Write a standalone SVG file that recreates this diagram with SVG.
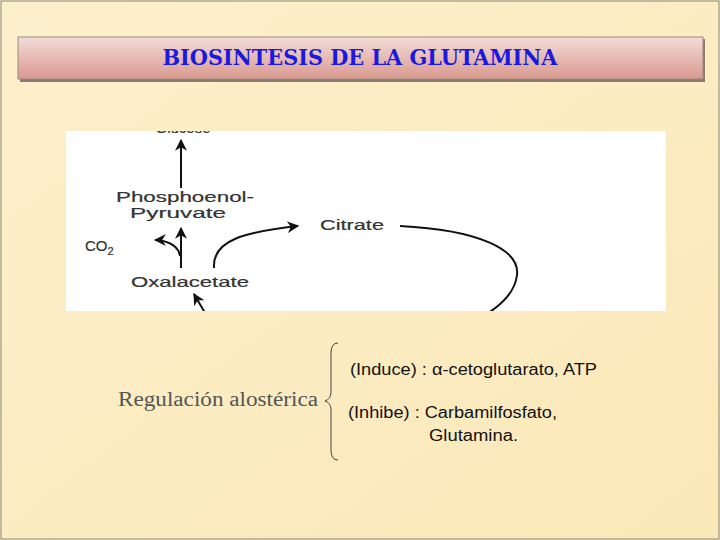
<svg xmlns="http://www.w3.org/2000/svg" width="720" height="540" viewBox="0 0 720 540">
<defs>
<linearGradient id="bg" x1="0" y1="0" x2="1" y2="1"><stop offset="0" stop-color="#fcf0cc"/><stop offset="1" stop-color="#fbe8b8"/></linearGradient>
<linearGradient id="bar" x1="0" y1="0" x2="0" y2="1"><stop offset="0" stop-color="#f3dcd8"/><stop offset="1" stop-color="#d9998f"/></linearGradient>
<marker id="ah" viewBox="0 0 10 10" refX="9" refY="5" markerWidth="6" markerHeight="6" orient="auto"><path d="M0,0 L10,5 L0,10 L3,5 z" fill="#111"/></marker>
<clipPath id="pic"><rect x="66" y="131" width="600" height="180"/></clipPath>
<style>.lbl{font-family:"Liberation Sans",Arial,sans-serif;font-size:15px;fill:#333;stroke:#333;stroke-width:0.2}.ln{stroke:#111;stroke-width:2;fill:none}.t{font-family:"Liberation Sans",Arial,sans-serif;font-size:16px;fill:#111}</style>
</defs>
<rect width="720" height="540" fill="url(#bg)"/>
<rect x="1" y="1" width="718" height="538" fill="none" stroke="#8a8a7a" stroke-width="1"/>
<g id="title">
<rect x="20" y="39" width="685" height="43" fill="#8a7a70"/>
<rect x="18" y="37" width="685" height="42" fill="url(#bar)" stroke="#9a8a80"/>
<text x="360" y="65" text-anchor="middle" font-family="'DejaVu Serif',serif" font-size="22" font-weight="bold" fill="#1a1adf" textLength="395" lengthAdjust="spacingAndGlyphs">BIOSINTESIS  DE  LA GLUTAMINA</text>
</g>
<g id="figure">
<rect x="66" y="131" width="600" height="180" fill="#fff"/>
<g clip-path="url(#pic)">
<text class="lbl" x="183" y="133" text-anchor="middle">Glucose</text>
<g id="connectors">
<line class="ln" x1="181" y1="188" x2="181" y2="140" marker-end="url(#ah)"/>
<line class="ln" x1="181" y1="268" x2="181" y2="228" marker-end="url(#ah)"/>
<path class="ln" d="M180,256 Q178,243 158,240 L155,240" marker-end="url(#ah)"/>
<path class="ln" d="M214,268 C212,240 245,232 298,226" marker-end="url(#ah)"/>
<path class="ln" d="M400,226 C480,230 520,250 517,275 C515,292 500,306 485,315"/>
<path class="ln" d="M208,318 L194,294" marker-end="url(#ah)"/>
</g>
<text class="lbl" x="116" y="202" textLength="138" lengthAdjust="spacingAndGlyphs">Phosphoenol-</text>
<text class="lbl" x="130" y="218" textLength="96" lengthAdjust="spacingAndGlyphs">Pyruvate</text>
<text class="lbl" x="320" y="230" textLength="64" lengthAdjust="spacingAndGlyphs">Citrate</text>
<text class="lbl" x="85" y="251" font-size="16">CO<tspan font-size="11" dy="4">2</tspan></text>
<text class="lbl" x="131" y="287" textLength="118" lengthAdjust="spacingAndGlyphs">Oxalacetate</text>
</g>
</g>
<g id="regulation">
<text x="218" y="406" text-anchor="middle" font-family="'Liberation Serif',serif" font-size="20" fill="#555" textLength="200" lengthAdjust="spacingAndGlyphs">Regulación alostérica</text>
<path d="M338,343 Q331,343 331,353 L331,392 Q331,399 325,401 Q331,403 331,410 L331,450 Q331,460 338,460" fill="none" stroke="#444" stroke-width="1"/>
<text class="t" x="350" y="375" textLength="247" lengthAdjust="spacingAndGlyphs">(Induce) : α-cetoglutarato, ATP</text>
<text class="t" x="348" y="418" textLength="209" lengthAdjust="spacingAndGlyphs">(Inhibe) : Carbamilfosfato,</text>
<text class="t" x="429" y="441" textLength="89" lengthAdjust="spacingAndGlyphs">Glutamina.</text>
</g>
</svg>
